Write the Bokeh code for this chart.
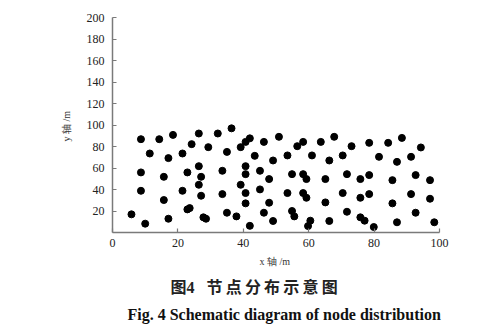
from bokeh.plotting import figure
from bokeh.models import Range1d, FixedTicker, Title
from bokeh.embed import file_html
from bokeh.resources import INLINE

# node coordinates (m)
x_nodes = [8.7, 14.3, 18.5, 26.4, 32.2, 36.4, 11.4, 21.4, 17.1, 24.2, 29.3, 35.0, 39.2, 40.7, 42.0,
           8.7, 15.7, 22.9, 26.4, 27.1, 26.4, 33.6, 40.7, 40.7, 39.2, 8.7, 21.4, 27.1, 33.6, 40.7,
           40.7, 15.7, 22.9, 23.6, 5.8, 17.1, 10.0, 27.8, 28.6, 35.0, 37.9, 42.0,
           46.3, 50.9, 56.5, 58.3, 63.7, 67.8, 73.1, 78.5, 84.3, 88.5, 94.3,
           43.5, 49.1, 53.5, 61.0, 66.3, 70.4, 81.5, 87.0, 91.3,
           45.1, 47.9, 54.9, 58.3, 59.3, 65.1, 71.7, 75.8, 78.5, 85.6, 92.7, 97.1,
           45.1, 47.9, 53.5, 58.3, 59.3, 65.1, 70.4, 75.8, 78.5, 91.3, 97.1, 85.6,
           46.3, 49.1, 54.9, 55.6, 60.5, 59.8, 66.3, 71.7, 75.8, 77.1, 79.9, 87.0, 92.7, 98.4]
y_nodes = [86.8, 86.8, 90.8, 92.1, 92.1, 96.9, 73.5, 73.5, 69.2, 82.2, 79.4, 75.0, 79.4, 84.3, 87.6,
           55.9, 51.8, 55.9, 61.7, 51.8, 44.4, 57.4, 61.7, 54.3, 44.4, 38.8, 38.8, 34.2, 35.7, 36.7,
           27.1, 30.2, 21.5, 22.7, 16.9, 12.8, 8.2, 14.1, 12.8, 18.4, 15.0, 6.2,
           84.3, 89.0, 80.3, 84.3, 84.3, 89.0, 80.3, 83.4, 83.4, 88.0, 79.1,
           71.3, 67.0, 71.7, 71.7, 67.0, 71.7, 70.4, 65.7, 70.4,
           57.4, 49.7, 54.3, 54.3, 49.7, 49.7, 54.3, 49.7, 53.4, 48.7, 53.4, 48.7,
           40.1, 27.7, 36.7, 36.7, 32.3, 28.0, 36.7, 32.3, 35.7, 35.7, 31.4, 27.1,
           18.4, 10.7, 20.0, 15.0, 11.0, 6.0, 10.7, 19.3, 14.1, 11.0, 5.1, 9.5, 18.4, 9.5]

x_ticks = [0, 20, 40, 60, 80, 100]
y_ticks = [20, 40, 60, 80, 100, 120, 140, 160, 180, 200]
x_label = "x 轴  /m"
y_label = "y 轴  /m"
caption_cn = "图4\u2002 节\u2009点\u2009分\u2009布\u2009示\u2009意\u2009图"
caption_en = "Fig. 4   Schematic diagram of node distribution"

W, H = 500, 336
left, right, top, bottom = 112, 61, 17, 104

p = figure(width=W, height=H, output_backend="svg", toolbar_location=None,
           x_range=Range1d(0, 100), y_range=Range1d(0, 200),
           min_border_left=left, min_border_right=right,
           min_border_top=top, min_border_bottom=bottom)
p.outline_line_color = None
p.xgrid.visible = False
p.ygrid.visible = False
p.background_fill_color = "white"
p.border_fill_color = "white"

p.scatter(x_nodes, y_nodes, size=7, color="black")

for ax in (p.xaxis[0], p.yaxis[0]):
    ax.axis_line_color = "#7a7a7a"
    ax.axis_line_width = 1.5
    ax.major_tick_line_color = "#7a7a7a"
    ax.major_tick_line_width = 1.2
    ax.major_tick_in = 4
    ax.major_tick_out = 0
    ax.minor_tick_line_color = None
    ax.major_label_text_font = "Liberation Serif"
    ax.major_label_text_font_size = "12px"
    ax.major_label_text_color = "#222222"
    ax.axis_label_text_font = "Liberation Serif"
    ax.axis_label_text_font_style = "normal"
    ax.axis_label_text_font_size = "10px"
    ax.axis_label_text_color = "#333333"

p.xaxis[0].ticker = FixedTicker(ticks=x_ticks)
p.yaxis[0].ticker = FixedTicker(ticks=y_ticks)
p.xaxis[0].major_label_standoff = 6
p.yaxis[0].major_label_standoff = 8
p.xaxis[0].axis_label = x_label
p.yaxis[0].axis_label = y_label
p.xaxis[0].axis_label_standoff = 6
p.yaxis[0].axis_label_standoff = 12

t_cn = Title(text=caption_cn, align="left", offset=58, text_font="Liberation Serif, Noto Sans CJK SC",
             text_font_size="16px", text_font_style="bold", text_color="#222222",
             standoff=15)
t_en = Title(text=caption_en, align="left", offset=15, text_font="Liberation Serif",
             text_font_size="16px", text_font_style="bold", text_color="#111111",
             standoff=0)
p.add_layout(t_cn, "below")
p.add_layout(t_en, "below")

open("out.html", "w").write(file_html(p, INLINE))
